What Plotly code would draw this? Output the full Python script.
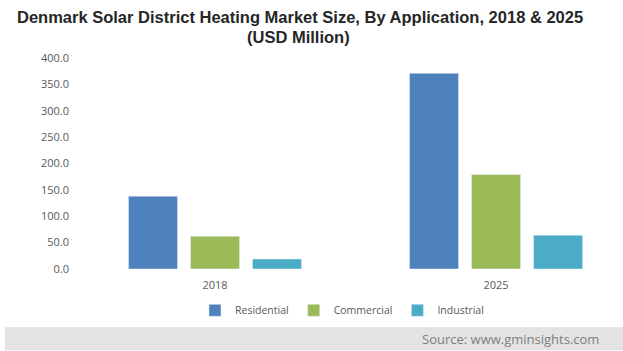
import plotly.graph_objects as go

years = ["2018", "2025"]
residential = [138, 371]
commercial = [62, 179]
industrial = [19, 64]
y_ticks = [0, 50, 100, 150, 200, 250, 300, 350, 400]
y_tick_text = ["0.0", "50.0", "100.0", "150.0", "200.0", "250.0", "300.0", "350.0", "400.0"]

W, H = 623, 351
L, R, T, B = 70, 3, 57.7, 81.5
fig = go.Figure()
fig.add_trace(go.Bar(name="Residential", x=years, y=residential, marker_color="#4f81bd"))
fig.add_trace(go.Bar(name="Commercial", x=years, y=commercial, marker_color="#9bbb59"))
fig.add_trace(go.Bar(name="Industrial", x=years, y=industrial, marker_color="#4bacc6"))

pw = W - L - R
ph = H - T - B
def px(x):
    return (x - L) / pw
def py(y):
    return (H - B - y) / ph

tick_font = dict(family="Open Sans, sans-serif", size=11, color="#595959")
fig.update_layout(
    width=W, height=H,
    margin=dict(l=L, r=R, t=T, b=B),
    paper_bgcolor="white", plot_bgcolor="white",
    barmode="group", bargap=0.338, bargroupgap=0.21,
    xaxis=dict(range=[-0.516, 1.441], showgrid=False, showline=False, ticks="",
               tickfont=tick_font, ticklabelstandoff=8),
    yaxis=dict(range=[0, 400], tickvals=y_ticks, ticktext=y_tick_text, showgrid=False,
               showline=False, ticks="", tickfont=tick_font, zeroline=False),
    legend=dict(orientation="h", x=px(342), xanchor="center", y=py(311), yanchor="middle",
                font=dict(family="Open Sans, sans-serif", size=10.5, color="#595959"),
                itemwidth=30, traceorder="normal", tracegroupgap=0),
    showlegend=True,
    shapes=[dict(type="rect", xref="paper", yref="paper",
                 x0=px(5), x1=px(623), y0=py(351), y1=py(328),
                 fillcolor="#e3e3e3", line_width=0, layer="below")],
)
title_font = dict(family="Liberation Sans, Arial, sans-serif", size=16.5, color="#262626")
fig.add_annotation(text="<b>Denmark Solar District Heating Market Size, By Application, 2018 & 2025</b>",
                   xref="paper", yref="paper", x=px(300), y=py(17), xanchor="center",
                   yanchor="middle", showarrow=False, font=title_font)
fig.add_annotation(text="<b>(USD Million)</b>",
                   xref="paper", yref="paper", x=px(298), y=py(37), xanchor="center",
                   yanchor="middle", showarrow=False, font=title_font)
fig.add_annotation(text="Source: www.gminsights.com", xref="paper", yref="paper",
                   x=px(601), y=py(339.5), xanchor="right", yanchor="middle", showarrow=False,
                   font=dict(family="Open Sans, sans-serif", size=13, color="#7f7f7f"))
fig.write_html("out.html")
